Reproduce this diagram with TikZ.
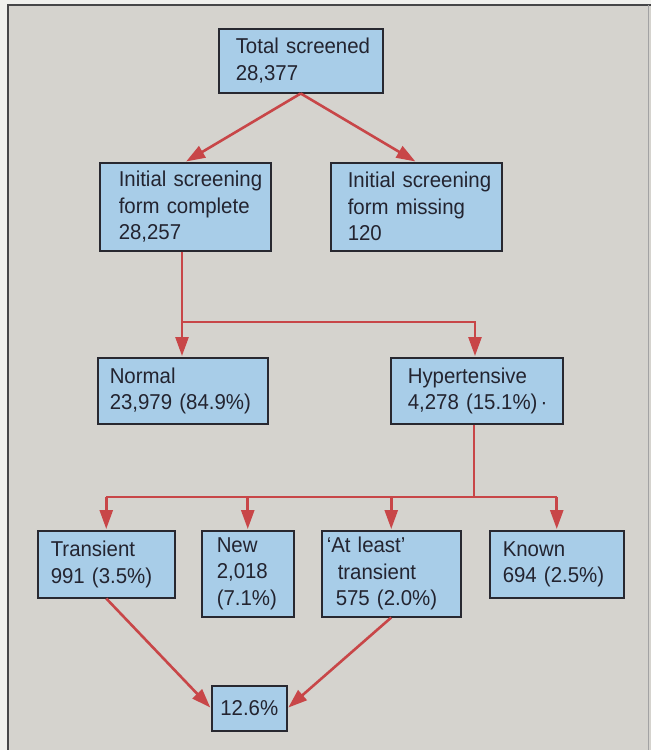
\documentclass[tikz,border=0pt]{standalone}
\usepackage{fontspec}
\setmainfont[FakeStretch=0.95]{Liberation Sans}
\usetikzlibrary{arrows.meta}
\definecolor{bggray}{RGB}{213,211,206}
\definecolor{edgewhite}{RGB}{240,240,237}
\definecolor{frameline}{RGB}{70,70,72}
\definecolor{boxblue}{RGB}{168,205,232}
\definecolor{boxedge}{RGB}{40,40,48}
\definecolor{txt}{RGB}{35,36,48}
\definecolor{arrred}{RGB}{200,70,72}
\newcommand{\oneline}[1]{\mbox{#1}}
\tikzset{
  flowbox/.style={draw=boxedge, fill=boxblue, line width=1.5pt, anchor=north west,
    align=left, text=txt, inner ysep=0pt,
    font=\fontsize{21.5}{26.5}\selectfont},
  link/.style={draw=arrred, line width=2.6pt},
  arrowlink/.style={link, -{Triangle[length=19pt,width=13pt]}, shorten >=1pt},
}
\begin{document}
\begin{tikzpicture}[x=1pt,y=-1pt]
\useasboundingbox (0,0) rectangle (651,750);
\fill[edgewhite] (0,0) rectangle (651,750);
\fill[bggray] (8,5) rectangle (651,750);
\draw[frameline, line width=2pt] (8,750) -- (8,5) -- (651,5);
\draw[frameline!50, line width=1pt] (648,5) -- (648,750);

% boxes: inner xsep = pad, text width = W - 2 pad, minimum height = H
\node[flowbox, inner xsep=17pt, text width=130pt, minimum height=64pt] (total) at (218,28)
  {\oneline{Total screened}\\\oneline{28,377}};
\node[flowbox, inner xsep=19pt, text width=133pt, minimum height=88pt] (complete) at (99,162)
  {\oneline{Initial screening}\\\oneline{form complete}\\\oneline{28,257}};
\node[flowbox, inner xsep=17pt, text width=137pt, minimum height=88pt] (missing) at (330,162)
  {\oneline{Initial screening}\\\oneline{form missing}\\\oneline{120}};
\node[flowbox, inner xsep=12pt, text width=146pt, minimum height=66pt] (normal) at (97,357)
  {\oneline{Normal}\\\oneline{23,979 (84.9\%)}};
\node[flowbox, inner xsep=17pt, text width=138pt, minimum height=66pt] (hyper) at (390,357)
  {\oneline{Hypertensive}\\\oneline{4,278 (15.1\%)\hspace{3pt}·}};
\node[flowbox, inner xsep=13pt, text width=111pt, minimum height=67pt] (transient) at (37,530)
  {\oneline{Transient}\\\oneline{991 (3.5\%)}};
\node[flowbox, inner xsep=15pt, text width=62pt, minimum height=86pt] (new) at (201,530)
  {\oneline{New}\\\oneline{2,018}\\\oneline{(7.1\%)}};
\node[flowbox, inner xsep=5pt, text width=129pt, minimum height=86pt] (atleast) at (321,530)
  {\oneline{‘At least’}\\\oneline{\hspace*{11pt}transient}\\\oneline{\hspace*{9pt}575 (2.0\%)}};
\node[flowbox, inner xsep=13pt, text width=108pt, minimum height=67pt] (known) at (489,530)
  {\oneline{Known}\\\oneline{694 (2.5\%)}};
\node[flowbox, align=center, inner xsep=3pt, text width=69pt, minimum height=45pt] (result) at (211,685)
  {12.6\%};

% junction points
\coordinate (splitA) at (182,322);
\coordinate (splitB) at (475,322);
\coordinate (splitC) at (474,497);

\draw[arrowlink] (total.south) -- (complete.north);
\draw[arrowlink] (total.south) -- (missing.north);

\draw[link] (complete.south -| splitA) -- (splitA);
\draw[arrowlink] (splitA) -- (normal.north -| splitA);
\draw[arrowlink] (splitA) -- (splitB) -- (hyper.north -| splitB);

\draw[link] (hyper.south -| splitC) -- (splitC);
\draw[link] (transient.north |- splitC) -- (known.north |- splitC);
\draw[arrowlink] (transient.north |- splitC) -- (transient.north);
\draw[arrowlink] (new.north |- splitC) -- (new.north);
\draw[arrowlink] (atleast.north |- splitC) -- (atleast.north);
\draw[arrowlink] (known.north |- splitC) -- (known.north);

\draw[arrowlink] (transient.south) -- (result.west);
\draw[arrowlink] (atleast.south) -- (result.east);
\end{tikzpicture}
\end{document}
